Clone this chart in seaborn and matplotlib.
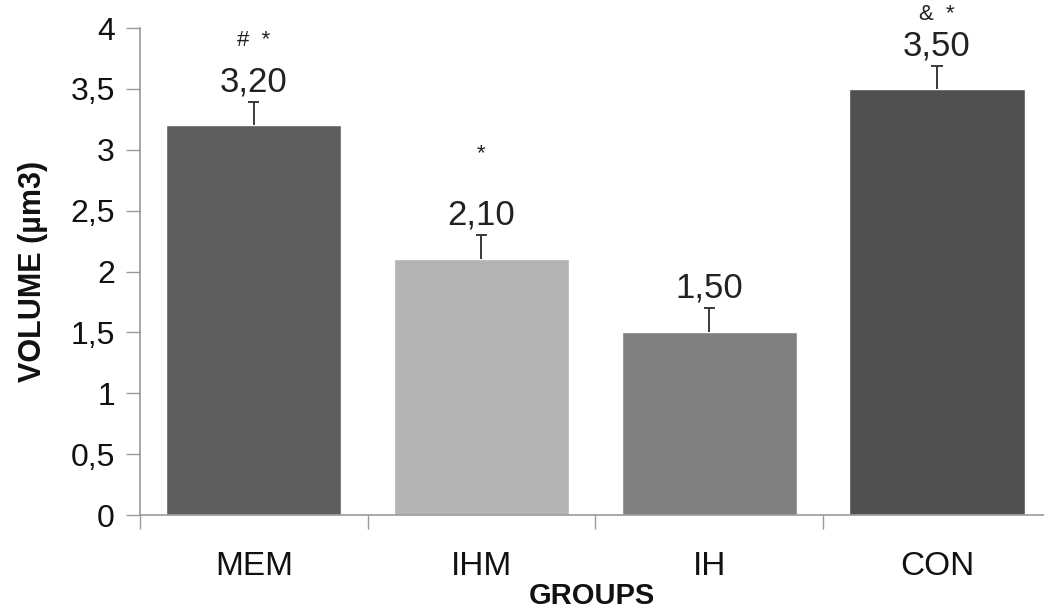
import matplotlib
matplotlib.use("Agg")
import matplotlib.pyplot as plt
import numpy as np
import pandas as pd
import seaborn as sns
from matplotlib.ticker import FuncFormatter, FixedLocator

sns.set_theme(style="white")
plt.rcParams['font.family'] = ['Liberation Sans', 'DejaVu Sans']

# data
groups = ['MEM', 'IHM', 'IH', 'CON']
volumes = [3.20, 2.10, 1.50, 3.50]
errors = [0.19, 0.20, 0.20, 0.19]
marks = ['#  *', '*', '', '&  *']
mark_y = [3.90, 2.97, None, 4.11]
bar_colors = ['#5e5e5e', '#b3b3b3', '#808080', '#505050']

df = pd.DataFrame({'group': groups, 'volume': volumes})

fig = plt.figure(figsize=(10.44, 6.11), dpi=100)
ax = fig.add_axes([0.134, 0.157, 0.866, 0.797])

sns.barplot(data=df, x='group', y='volume', hue='group', palette=bar_colors,
            width=0.77, saturation=1, legend=False, ax=ax)

# one-sided error bars (upper cap only)
x = np.arange(len(groups))
tops = np.array(volumes) + np.array(errors)
ax.vlines(x, volumes, tops, color='#3a3a3a', linewidth=1.4)
ax.hlines(tops, x - 0.025, x + 0.025, color='#3a3a3a', linewidth=1.4)

# value labels and significance marks
for i, (v, t, m, my) in enumerate(zip(volumes, tops, marks, mark_y)):
    ax.text(i, t + 0.03, f'{v:.2f}'.replace('.', ','), ha='center', va='bottom',
            fontsize=25, color='#222222')
    if m:
        ax.text(i, my, m, ha='center', va='center', fontsize=16, color='#222222',
                clip_on=False)

ax.set_ylim(0, 4)
ax.set_xlim(-0.5, 3.47)
ax.yaxis.set_major_locator(FixedLocator(np.arange(0, 4.01, 0.5)))
ax.yaxis.set_major_formatter(FuncFormatter(lambda v, p: f'{v:g}'.replace('.', ',')))

ax.xaxis.set_minor_locator(FixedLocator([-0.5, 0.5, 1.5, 2.5, 3.5]))
ax.tick_params(axis='x', which='major', length=0, pad=26, labelsize=24, colors='#111111')
ax.tick_params(axis='x', which='minor', bottom=True, length=10, width=1, color='#999999', direction='out')
ax.tick_params(axis='y', which='major', left=True, length=10, width=1, color='#999999',
               direction='out', labelsize=23, pad=8, labelcolor='#111111')

for s in ['top', 'right']:
    ax.spines[s].set_visible(False)
for s in ['left', 'bottom']:
    ax.spines[s].set_color('#999999')
    ax.spines[s].set_linewidth(1.2)

ax.set_xlabel('GROUPS', fontsize=21, fontweight='bold', labelpad=0, color='#111111')
ax.set_ylabel('VOLUME (µm3)', fontsize=22, fontweight='bold', labelpad=16, color='#111111')

fig.savefig('out.png', dpi=100)
